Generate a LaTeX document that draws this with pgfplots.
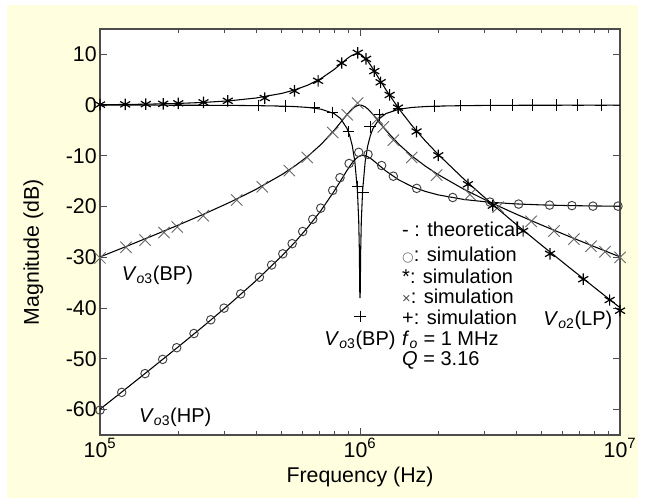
\documentclass[border=0pt]{standalone}
\usepackage{fontspec}
\setmainfont{Liberation Sans}
\newfontfamily\dejavu{DejaVu Sans}
\usepackage{pgfplots}
\pgfplotsset{compat=1.18}
\definecolor{bgyellow}{RGB}{255,255,224}
\begin{document}
\begin{tikzpicture}[x=1pt,y=1pt]
\fill[white] (-75,-48.75) rectangle (408.75,326.25);
\fill[bgyellow] (-69.75,-47.25) rectangle (403.5,322.5);
\begin{axis}[
  at={(0,0)}, anchor=south west,
  scale only axis, width=390pt, height=304.5pt,
  xmode=log, xmin=1e5, xmax=1e7, ymin=-65, ymax=15,
  clip=false,
  axis background/.style={fill=white},
  axis line style={black!70, line width=0.8pt},
  tick style={black!70, line width=0.6pt},
  tick align=inside,
  major tick length=5pt, minor tick length=3pt,
  xtick={1e5,1e6,1e7},
  xticklabels={10\textsuperscript{5},10\textsuperscript{6},10\textsuperscript{7}},
  minor xtick={2e5,3e5,4e5,5e5,6e5,7e5,8e5,9e5,2e6,3e6,4e6,5e6,6e6,7e6,8e6,9e6},
  ytick={-60,-50,-40,-30,-20,-10,0,10},
  yticklabels={-60,-50,-40,-30,-20,-10,0,10},
  ticklabel style={font=\fontsize{16}{19}\selectfont},
  yticklabel style={xshift=1pt},
  xticklabel style={yshift=1pt},
  xlabel={Frequency (Hz)}, ylabel={Magnitude (dB)},
  label style={font=\fontsize{16}{19}\selectfont},
  xlabel style={at={(rel axis cs:0.5,-0.103)}, anchor=center},
  ylabel style={at={(rel axis cs:-0.128,0.45)}, anchor=center},
]
% theoretical curves
\addplot[black, line width=0.8pt] coordinates {
(1e5,0.083) (1.25893e5,0.132) (1.58489e5,0.210) (1.99526e5,0.334) (2.51189e5,0.535)
(3.16228e5,0.862) (3.98107e5,1.403) (5.01187e5,2.322) (5.62341e5,3.017) (6.30957e5,3.956)
(7.07946e5,5.243) (7.94328e5,7.003) (8.41395e5,8.063) (8.91251e5,9.142) (9.12011e5,9.523)
(9.33254e5,9.835) (9.54993e5,10.040) (9.77237e5,10.102) (9.88553e5,10.071) (1e6,9.994)
(1.011579e6,9.871) (1.023293e6,9.702) (1.047129e6,9.240) (1.071519e6,8.635) (1.096478e6,7.923)
(1.122018e6,7.142) (1.188502e6,5.063) (1.258925e6,3.003) (1.412538e6,-0.757) (1.584893e6,-4.044)
(1.778279e6,-6.983) (1.995262e6,-9.678) (2.511886e6,-14.598) (3.162278e6,-19.138) (3.981072e6,-23.465)
(5.011872e6,-27.666) (6.309573e6,-31.790) (7.943282e6,-35.868) (1e7,-39.917)};
\addplot[black, line width=0.8pt] coordinates {
(1e5,-29.911) (1.25893e5,-27.862) (1.58489e5,-25.784) (1.99526e5,-23.660) (2.51189e5,-21.459)
(3.16228e5,-19.132) (3.98107e5,-16.591) (5.01187e5,-13.672) (5.62341e5,-11.977) (6.30957e5,-10.038)
(7.07946e5,-7.751) (7.94328e5,-4.991) (8.41395e5,-3.431) (8.91251e5,-1.852) (9.12011e5,-1.271)
(9.33254e5,-0.759) (9.54993e5,-0.353) (9.77237e5,-0.091) (9.88553e5,-0.023) (1e6,0)
(1.011579e6,-0.023) (1.023293e6,-0.091) (1.047129e6,-0.353) (1.071519e6,-0.759) (1.096478e6,-1.271)
(1.122018e6,-1.852) (1.188502e6,-3.431) (1.258925e6,-4.991) (1.412538e6,-7.751) (1.584893e6,-10.038)
(1.778279e6,-11.977) (1.995262e6,-13.672) (2.511886e6,-16.591) (3.162278e6,-19.132) (3.981072e6,-21.459)
(5.011872e6,-23.660) (6.309573e6,-25.784) (7.943282e6,-27.862) (1e7,-29.911)};
\addplot[black, line width=0.8pt] coordinates {
(1e5,-59.917) (1.25893e5,-55.868) (1.58489e5,-51.790) (1.99526e5,-47.666) (2.51189e5,-43.465)
(3.16228e5,-39.138) (3.98107e5,-34.598) (5.01187e5,-29.678) (5.62341e5,-26.983) (6.30957e5,-24.044)
(7.07946e5,-20.757) (7.94328e5,-16.997) (8.41395e5,-14.937) (8.91251e5,-12.858) (9.12011e5,-12.077)
(9.33254e5,-11.365) (9.54993e5,-10.760) (9.77237e5,-10.298) (9.88553e5,-10.130) (1e6,-10.007)
(1.011579e6,-9.929) (1.023293e6,-9.898) (1.047129e6,-9.960) (1.071519e6,-10.165) (1.096478e6,-10.477)
(1.122018e6,-10.858) (1.188502e6,-11.937) (1.258925e6,-12.997) (1.412538e6,-14.757) (1.584893e6,-16.044)
(1.778279e6,-16.983) (1.995262e6,-17.678) (2.511886e6,-18.598) (3.162278e6,-19.138) (3.981072e6,-19.465)
(5.011872e6,-19.666) (6.309573e6,-19.790) (7.943282e6,-19.868) (1e7,-19.917)};
\addplot[black, line width=0.8pt] coordinates {
(1e5,-0.005) (1.25893e5,-0.007) (1.58489e5,-0.012) (1.99526e5,-0.019) (2.51189e5,-0.031)
(3.16228e5,-0.053) (3.98107e5,-0.096) (5.01187e5,-0.191) (5.62341e5,-0.285) (6.30957e5,-0.454)
(7.07946e5,-0.798) (7.94328e5,-1.655) (8.41395e5,-2.628) (8.91251e5,-4.595) (9.12011e5,-5.958)
(9.33254e5,-7.951) (9.54993e5,-11.072) (9.77237e5,-16.832) (9.88553e5,-22.785) (9.94260e5,-28.79)
(9.97700e5,-36.74) (1e6,-38) (1.002305e6,-36.74) (1.005773e6,-28.79)
(1.011579e6,-22.785) (1.023293e6,-16.832) (1.047129e6,-11.072) (1.071519e6,-7.951) (1.096478e6,-5.958)
(1.122018e6,-4.595) (1.188502e6,-2.628) (1.258925e6,-1.655) (1.412538e6,-0.798) (1.584893e6,-0.454)
(1.778279e6,-0.285) (1.995262e6,-0.191) (2.511886e6,-0.096) (3.162278e6,-0.053) (3.981072e6,-0.031)
(5.011872e6,-0.019) (6.309573e6,-0.012) (7.943282e6,-0.007) (1e7,-0.005)};
% simulation markers
\addplot[only marks, mark=o, mark size=3.2pt, mark options={black!75, line width=0.7pt}] coordinates {
(1e5,-60.1) (1.212e5,-56.6) (1.49e5,-52.9) (1.742e5,-50.1) (1.972e5,-47.8) (2.298e5,-45.0)
(2.667e5,-42.3) (2.999e5,-40.0) (3.475e5,-37.2) (4.102e5,-33.9) (4.571e5,-31.5) (5.047e5,-29.3)
(5.483e5,-27.3) (6.019e5,-24.9) (6.577e5,-22.5) (7.063e5,-20.3) (7.852e5,-16.8) (8.375e5,-14.3)
(9.08e5,-11.5) (9.886e5,-9.3) (1.0735e6,-9.7) (1.211e6,-11.9) (1.343e6,-14.0) (1.652e6,-16.4)
(2.273e6,-18.2) (3.162e6,-19.1) (4.074e6,-19.5) (5.358e6,-19.7) (6.531e6,-19.8) (7.87e6,-19.9) (9.82e6,-19.9)};
\addplot[only marks, mark=x, mark size=6pt, mark options={black!60, line width=0.65pt}] coordinates {
(1e5,-30.1) (1.259e5,-28.0) (1.49e5,-26.6) (1.762e5,-25.1) (1.982e5,-24.0) (2.495e5,-21.8)
(3.357e5,-18.7) (4.207e5,-16.1) (5.346e5,-12.9) (6.266e5,-10.3) (7.852e5,-5.4) (8.933e5,-1.9)
(9.795e5,0.4) (1.166e6,-2.7) (1.229e6,-4.3) (1.343e6,-6.9) (1.581e6,-10.3) (1.972e6,-13.8)
(2.649e6,-17.6) (3.396e6,-20.1) (4.55e6,-22.9) (5.57e6,-24.8) (6.65e6,-26.4) (7.73e6,-27.8)
(8.75e6,-28.9) (1e7,-30.0)};
\addplot[only marks, mark=+, mark size=4.3pt, mark options={black, line width=0.75pt}] coordinates {
(4.055e5,-0.1) (5.146e5,-0.2) (6.653e5,-0.5) (7.852e5,-1.4) (9.016e5,-5.2) (9.77e5,-16.0)
(1e6,-41.6) (1.025e6,-17.3) (1.093e6,-4.3) (1.186e6,-1.9) (1.403e6,-0.7) (1.926e6,-0.2)
(2.438e6,-0.1) (3.162e6,0) (3.846e6,0) (4.624e6,0) (5.675e6,0) (6.89e6,0) (8.45e6,0)};
\addplot[only marks, mark=asterisk, mark size=4.3pt, mark options={black, line width=0.9pt}] coordinates {
(1e5,0.1) (1.25e5,0.15) (1.5e5,0.2) (1.75e5,0.25) (2e5,0.35) (2.5e5,0.55) (3.1e5,0.85)
(4.3e5,1.4) (5.6e5,2.8) (6.9e5,4.8) (8.5e5,8.3) (9.8e5,10.3) (1.055e6,9.1) (1.135e6,6.7)
(1.2e6,4.5) (1.3e6,2.0) (1.4e6,-0.5) (1.65e6,-5.2) (2e6,-9.9) (2.6e6,-15.6) (3.24e6,-19.8)
(4.24e6,-24.8) (5.38e6,-29.3) (7.22e6,-34.3) (9.12e6,-38.4) (1e7,-40.5)};
% annotations
\begin{scope}[every node/.style={inner sep=0pt, font=\fontsize{15}{18}\selectfont, text height=0.72em, text depth=0.2em}]
\node[anchor=west] at (axis cs:1.21e5,-33.9) {\textit{V}\textsubscript{\textit{o}3}(BP)};
\node[anchor=west] at (axis cs:1.41e5,-61.8) {\textit{V}\textsubscript{\textit{o}3}(HP)};
\node[anchor=center] at (axis cs:1e6,-46.6) {\textit{V}\textsubscript{\textit{o}3}(BP)};
\node[anchor=west] at (axis cs:5.06e6,-42.8) {\textit{V}\textsubscript{\textit{o}2}(LP)};
\node[anchor=west] at (axis cs:1.45e6,-25.3) {- : theoretical};
\node[anchor=west] at (axis cs:1.45e6,-30.1) {{\dejavu\color{black!55}\fontsize{10}{12}\selectfont ○}: simulation};
\node[anchor=west] at (axis cs:1.45e6,-34.4) {*: simulation};
\node[anchor=west] at (axis cs:1.45e6,-38.5) {{\color{black!70}\fontsize{11}{12}\selectfont ×}: simulation};
\node[anchor=west] at (axis cs:1.45e6,-42.6) {+: simulation};
\node[anchor=west] at (axis cs:1.45e6,-46.7) {\textit{f}\textsubscript{\textit{o}} = 1 MHz};
\node[anchor=west] at (axis cs:1.45e6,-50.7) {\textit{Q} = 3.16};
\end{scope}
\end{axis}
\pgfresetboundingbox
\useasboundingbox (-75,-48.75) rectangle (408.75,326.25);
\end{tikzpicture}
\end{document}
